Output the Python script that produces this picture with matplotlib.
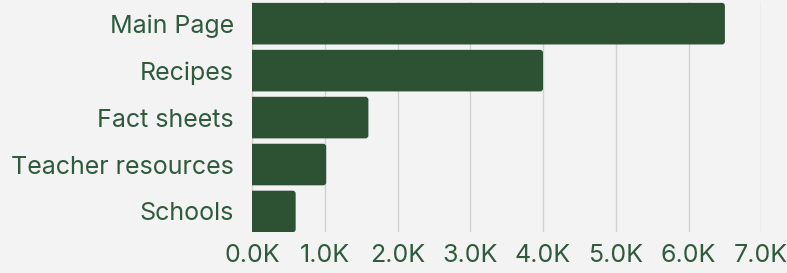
import matplotlib.pyplot as plt
from matplotlib.patches import FancyBboxPatch
from matplotlib.ticker import FuncFormatter

# page views per section
pages = ["Main Page", "Recipes", "Fact sheets", "Teacher resources", "Schools"]
views = [6500, 4000, 1600, 1020, 600]
xticks = [0, 1000, 2000, 3000, 4000, 5000, 6000, 7000]

bg = "#f3f3f3"
green = "#2d5233"
text_green = "#2f5a3b"

plt.rcParams['font.family'] = ['Inter', 'DejaVu Sans']

fig = plt.figure(figsize=(7.87, 2.73), dpi=100, facecolor=bg)
ax = fig.add_axes([252 / 787, 1 - 232 / 273, (761.3 - 252) / 787, 230 / 273])
ax.set_facecolor(bg)

ypos = list(range(len(pages)))
bars = ax.barh(ypos, views, height=0.886, color=green, zorder=3)

ax.set_xlim(0, 7000)
ax.set_ylim(4.437, -0.462)

# swap plain bars for ones with slightly rounded right corners
px_x = 7000 / (761.3 - 252)
px_y = (4.437 + 0.462) / 230
for b in bars:
    x0, y0 = b.get_x(), b.get_y()
    w, h = b.get_width(), b.get_height()
    r = 3 * px_x
    fb = FancyBboxPatch((x0 - 80, y0), w + 80, h,
                        boxstyle=f"round,pad=0,rounding_size={r}",
                        mutation_aspect=px_y / px_x,
                        facecolor=green, edgecolor="none", zorder=3)
    b.remove()
    ax.add_patch(fb)

ax.set_xticks(xticks)
ax.xaxis.set_major_formatter(FuncFormatter(lambda v, p: f"{v / 1000:.1f}K"))
ax.set_yticks(ypos)
ax.set_yticklabels(pages)
ax.grid(axis="x", color="#cfd3d0", linewidth=1, zorder=0)
ax.tick_params(axis="y", length=0, labelsize=18, colors=text_green, pad=13)
ax.tick_params(axis="x", length=0, labelsize=18, colors=text_green, pad=9)
for s in ax.spines.values():
    s.set_visible(False)

fig.savefig("out.png", dpi=100, facecolor=bg)
